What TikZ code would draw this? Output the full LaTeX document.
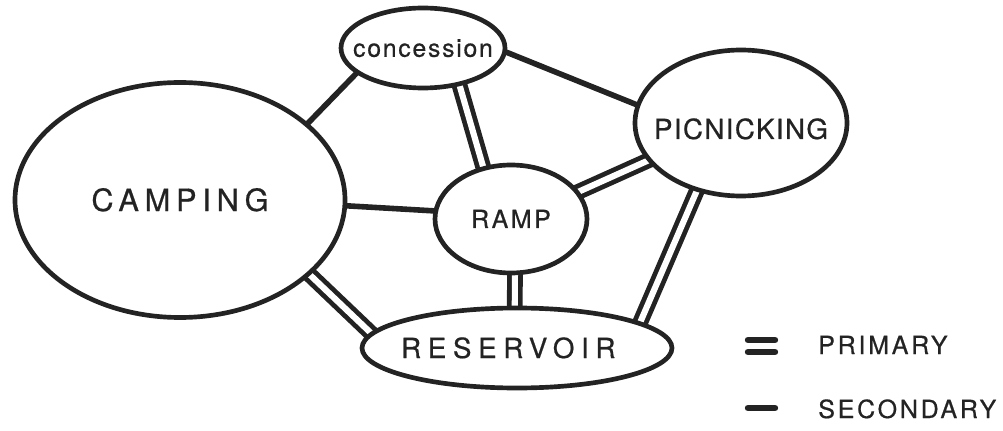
\documentclass[tikz,border=0pt]{standalone}
\usepackage{fontspec}
\setmainfont{TeX Gyre Heros}
\newfontfamily\fcamp[LetterSpace=19,FakeBold=0.6]{TeX Gyre Heros}
\newfontfamily\fconc[LetterSpace=7,FakeBold=0.6]{TeX Gyre Heros}
\newfontfamily\fpic[LetterSpace=5,FakeBold=0.6]{TeX Gyre Heros}
\newfontfamily\framp[LetterSpace=10,FakeBold=0.6]{TeX Gyre Heros}
\newfontfamily\fres[LetterSpace=24,FakeBold=0.6]{TeX Gyre Heros}
\newfontfamily\fleg[LetterSpace=11,FakeBold=0.6]{TeX Gyre Heros}
\usetikzlibrary{shapes.geometric,backgrounds}
\definecolor{ink}{RGB}{35,35,35}
\newcommand\zw[1]{\makebox[0pt]{#1}}
\tikzset{
  area/.style={ellipse, draw=ink, line width=3.5pt, fill=white, inner sep=0pt, text=ink, text depth=0pt},
  secondary/.style={draw=ink, line width=4.2pt, shorten <=-4pt, shorten >=-4pt},
  primary/.style={draw=ink, line width=3.6pt, double=white, double distance=4.6pt, shorten <=-4pt, shorten >=-4pt},
  legbar/.style={draw=ink, line width=4.8pt, line cap=round},
  legtext/.style={anchor=base west, inner sep=0pt, text=ink, font=\fleg\fontsize{18.75}{20}\selectfont}
}
\begin{document}
\begin{tikzpicture}[x=0.75pt,y=-0.75pt]
\useasboundingbox (0,0) rectangle (1003,431);
\node[area, minimum width=247.5pt, minimum height=176.25pt, text height=16.5pt,
      font=\fcamp\fontsize{23}{24}\selectfont] (camp) at (180,200) {\zw{CAMPING}};
\node[area, minimum width=123pt, minimum height=60pt,
      font=\fconc\fontsize{18.6}{20}\selectfont] (conc) at (423,48) {\zw{concession}};
\node[area, minimum width=159pt, minimum height=109.5pt, text height=24pt,
      font=\fpic\fontsize{20.8}{22}\selectfont] (pic) at (741,123) {\zw{PICNICKING}};
\node[area, minimum width=114pt, minimum height=81pt, text height=13.5pt,
      font=\framp\fontsize{18.75}{20}\selectfont] (ramp) at (511,219) {\zw{RAMP}};
\node[area, minimum width=232.5pt, minimum height=60pt, text height=15pt,
      font=\fres\fontsize{20.8}{22}\selectfont] (res) at (517,348) {\zw{RESERVOIR\hspace{13pt}}};
\begin{scope}[on background layer]
  \draw[secondary] (camp.31.6) -- (conc.201);
  \draw[secondary] (camp.-2.4) -- (ramp.174.6);
  \draw[primary] (camp.-30.4) -- (res.174.8);
  \draw[primary] (conc.-46.5) -- (ramp.118.8);
  \draw[secondary] (conc.-3) -- (pic.170);
  \draw[primary] (ramp.22.8) -- (pic.202);
  \draw[primary] (ramp.-86) -- (res.93);
  \draw[primary] (pic.-123) -- (res.12);
\end{scope}
% legend
\coordinate (p1a) at (748,340); \coordinate (p1b) at (775,340);
\coordinate (p2a) at (748,352); \coordinate (p2b) at (775,352);
\coordinate (s1a) at (748,408); \coordinate (s1b) at (775,408);
\draw[legbar] (p1a) -- (p1b);
\draw[legbar] (p2a) -- (p2b);
\draw[legbar] (s1a) -- (s1b);
\node[legtext] (prim) at (818,354) {PRIMARY};
\node[legtext] (sec) at (818,418) {SECONDARY};
\end{tikzpicture}
\end{document}
